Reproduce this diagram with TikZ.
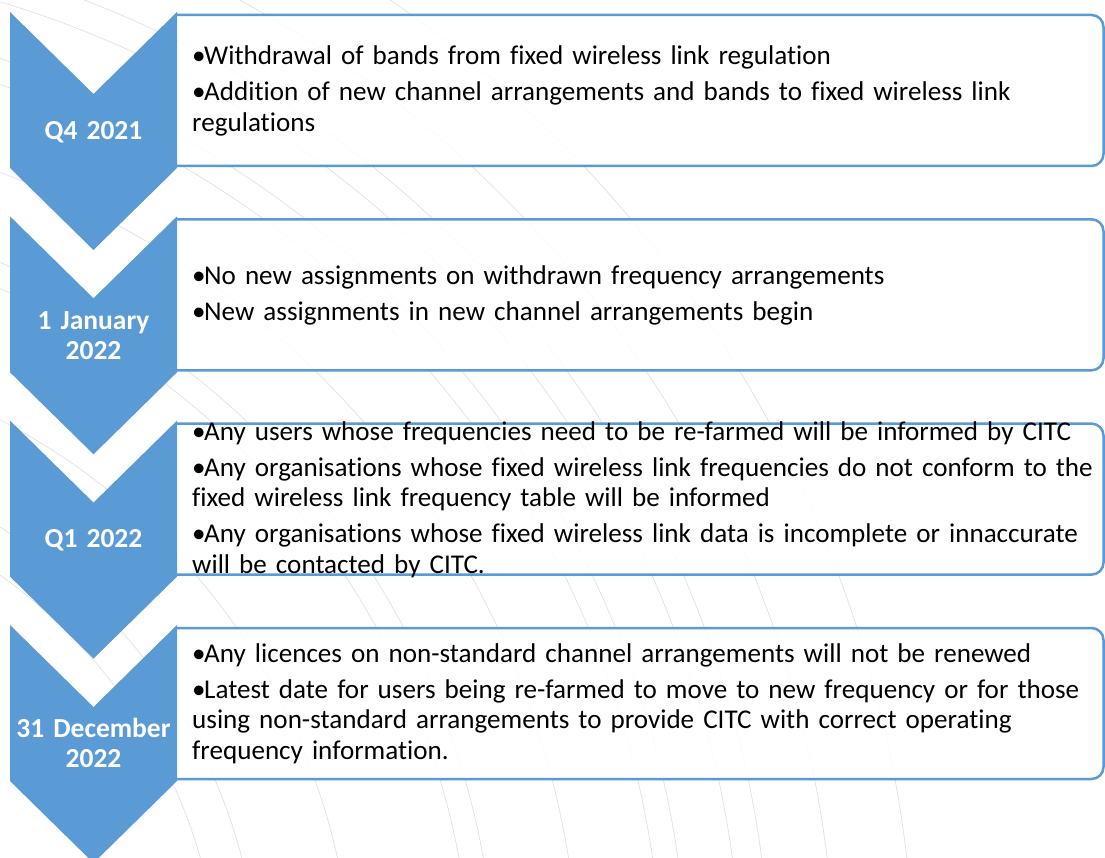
\documentclass[tikz,border=0pt]{standalone}
\usepackage{fontspec}
\setmainfont{Carlito}[Ligatures={NoCommon,NoContextual}, RawFeature={-liga;-clig;-dlig}]
\definecolor{accent}{HTML}{5B9BD5}
\definecolor{arcc}{HTML}{D4D4EA}
\newcommand\bitem{\hangindent=12pt\hangafter=1\makebox[12pt][l]{•}}
\newcommand\bodyset{\setlength{\parskip}{5.5pt}}
\tikzset{
  chev/.style={fill=accent},
  panel/.style={draw=accent, line width=2.5pt, fill=white, fill opacity=0.88, draw opacity=1, rounded corners=12pt},
  datelbl/.style={text=white, font=\bfseries\fontsize{27.5}{30}\selectfont, text width=165pt, align=center, inner sep=0pt, anchor=base},
  bodytxt/.style={text=black, font=\fontsize{27.1}{30.5}\selectfont, text width=930pt, inner sep=0pt, anchor=base west, align=left},
  arcline/.style={draw=arcc, line width=0.6pt, draw opacity=0.8}
}
\begin{document}
\begin{tikzpicture}[x=1pt, y=-1pt]
\useasboundingbox (0,0) rectangle (1105,858);
\fill[white] (0,0) rectangle (1105,858);
% faint background arcs
\begin{scope}
\clip (0,0) rectangle (1105,858);
\foreach \r in {520,560,653,772,796,880,963,988,1042,1071,1136,1215}
  \draw[arcline] (-300,1000) circle[radius=\r];
\end{scope}
% panels
\foreach \t in {12,216.3,420.6,625}
  \path[panel] (177,\t+3) -- (1103.5,\t+3) -- (1103.5,\t+154) -- (177,\t+154);
% chevrons
\foreach \t in {12,216.3,420.6,625}
  \fill[chev] (10,\t) -- (93.5,\t+82) -- (177,\t) -- (177,\t+156) -- (93.5,\t+238) -- (10,\t+156) -- cycle;
% date labels
\node[datelbl] (d1) at (93.5,140) {Q4 2021};
\node[datelbl] (d2) at (93.5,330) {1 January\\2022};
\node[datelbl] (d3) at (93.5,547) {Q1 2022};
\node[datelbl] (d4) at (93.5,737) {31 December\\2022};
% body texts
\node[bodytxt] (t1) at (192,65) {\bodyset\bitem Withdrawal of bands from fixed wireless link regulation\par
\bitem Addition of new channel arrangements and bands to fixed wireless link\\regulations};
\node[bodytxt] (t2) at (192,285) {\bodyset\bitem No new assignments on withdrawn frequency arrangements\par
\bitem New assignments in new channel arrangements begin};
\node[bodytxt] (t3) at (192,440) {\bodyset\bitem Any users whose frequencies need to be re-farmed will be informed by CITC\par
\bitem Any organisations whose fixed wireless link frequencies do not conform to the\\fixed wireless link frequency table will be informed\par
\bitem Any organisations whose fixed wireless link data is incomplete or innaccurate\\will be contacted by CITC.};
\node[bodytxt] (t4) at (192,662) {\bodyset\bitem Any licences on non-standard channel arrangements will not be renewed\par
\bitem Latest date for users being re-farmed to move to new frequency or for those\\using non-standard arrangements to provide CITC with correct operating\\frequency information.};
\end{tikzpicture}
\end{document}
